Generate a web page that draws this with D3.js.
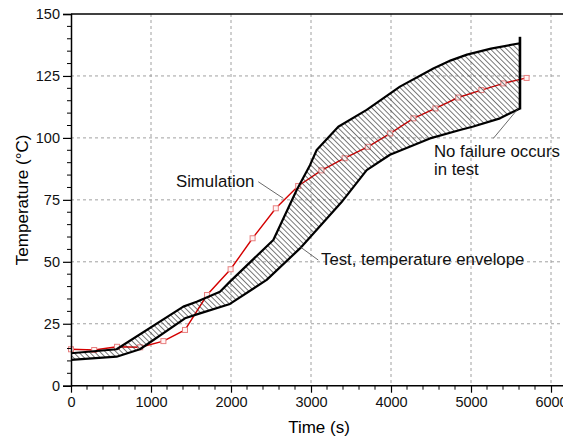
<!DOCTYPE html>
<html>
<head>
<meta charset="utf-8">
<script src="https://cdn.jsdelivr.net/npm/d3@7"></script>
<style>
  body { margin: 0; background: #fff; }
  svg { font-family: "Liberation Sans", Arial, sans-serif; }
</style>
</head>
<body>
<svg id="chart" width="563" height="442"></svg>
<script>
// simulation curve (time s, temperature C)
const simTime = [0, 290, 575, 865, 1155, 1425, 1700, 1995, 2270, 2560, 2840, 3130, 3420, 3710, 3990, 4280, 4555, 4840, 5130, 5405, 5695];
const simTemp = [14.7, 14.4, 15.7, 15.5, 18.0, 22.5, 36.6, 47.0, 59.5, 71.6, 80.6, 86.9, 91.8, 96.4, 101.8, 107.9, 111.9, 116.3, 119.3, 122.0, 124.2];

// test envelope, upper and lower bound
const upperTime = [0, 570, 1404, 1571, 1862, 1987, 2529, 2821, 2987, 3071, 3341, 3696, 4112, 4529, 4750, 4950, 5250, 5612];
const upperTemp = [13.1, 14.7, 31.9, 33.9, 37.9, 42.0, 58.8, 79.0, 89.0, 95.1, 104.5, 111.3, 120.7, 128.0, 131.3, 133.6, 136.0, 138.2];
const lowerTime = [0, 570, 862, 1425, 1612, 1987, 2446, 2862, 3380, 3696, 3987, 4487, 4862, 5029, 5362, 5612];
const lowerTemp = [10.4, 11.7, 14.7, 27.2, 29.2, 33.0, 42.7, 55.4, 74.0, 87.0, 93.2, 99.8, 103.2, 104.6, 107.9, 111.9];

// end of test, no failure
const endTime = 5612;
const endRange = [111.5, 140.8];

const xTicks = [0, 1000, 2000, 3000, 4000, 5000, 6000];
const yTicks = [0, 25, 50, 75, 100, 125, 150];
const xLabel = "Time (s)";
const yLabel = "Temperature (°C)";
const noteSim = "Simulation";
const noteEnv = "Test, temperature envelope";
const noteFail = ["No failure occurs", "in test"];

const svg = d3.select("#chart");
const mLeft = 71, mRight = 563, mTop = 14, mBottom = 385.7;

const x = d3.scaleLinear().domain([0, 6150]).range([mLeft, mRight]);
const y = d3.scaleLinear().domain([0, 150]).range([mBottom, mTop]);

const defs = svg.append("defs");
const pat = defs.append("pattern")
    .attr("id", "hatch")
    .attr("patternUnits", "userSpaceOnUse")
    .attr("width", 3.8).attr("height", 4)
    .attr("patternTransform", "rotate(-45)");
pat.append("line")
    .attr("x1", 0).attr("y1", 0).attr("x2", 0).attr("y2", 4)
    .attr("stroke", "#333").attr("stroke-width", 1.3);

// grid
const grid = svg.append("g").attr("stroke", "#a0a0a0").attr("stroke-dasharray", "3,3").attr("stroke-width", 1);
grid.selectAll("line.v").data(xTicks.filter(d => d > 0))
    .enter().append("line")
    .attr("x1", d => x(d)).attr("x2", d => x(d))
    .attr("y1", mTop).attr("y2", mBottom);
grid.selectAll("line.h").data(yTicks.filter(d => d > 0 && d < 150))
    .enter().append("line")
    .attr("x1", mLeft).attr("x2", mRight)
    .attr("y1", d => y(d)).attr("y2", d => y(d));

// simulation line
const sim = simTime.map((t, i) => [t, simTemp[i]]);
const line = d3.line().x(d => x(d[0])).y(d => y(d[1]));
svg.append("path")
    .attr("d", line(sim))
    .attr("fill", "none")
    .attr("stroke", "#d40000")
    .attr("stroke-width", 1.4);
svg.append("g").selectAll("rect").data(sim)
    .enter().append("rect")
    .attr("x", d => x(d[0]) - 2.5).attr("y", d => y(d[1]) - 2.5)
    .attr("width", 5).attr("height", 5)
    .attr("fill", "#fff4f4")
    .attr("stroke", "#e88080")
    .attr("stroke-width", 1);

// envelope
const upper = upperTime.map((t, i) => [t, upperTemp[i]]);
const lower = lowerTime.map((t, i) => [t, lowerTemp[i]]);
const envelope = upper.concat(lower.slice().reverse());
svg.append("path")
    .attr("d", line(envelope) + "Z")
    .attr("fill", "url(#hatch)")
    .attr("stroke", "none");
[upper, lower].forEach(pts => {
    svg.append("path")
        .attr("d", line(pts))
        .attr("fill", "none")
        .attr("stroke", "#000")
        .attr("stroke-width", 2.2)
        .attr("stroke-linejoin", "round");
});
svg.append("line")
    .attr("x1", x(endTime)).attr("x2", x(endTime))
    .attr("y1", y(endRange[0])).attr("y2", y(endRange[1]))
    .attr("stroke", "#000").attr("stroke-width", 2.6);

// axes
const xAxis = svg.append("g").attr("transform", `translate(0,${mBottom})`)
    .call(d3.axisBottom(x).tickValues(xTicks).tickSize(7).tickPadding(4).tickFormat(d3.format("d")));
xAxis.append("g").selectAll("line").data(d3.range(200, 6001, 200).filter(d => d % 1000))
    .enter().append("line")
    .attr("x1", d => x(d)).attr("x2", d => x(d)).attr("y1", 0).attr("y2", 4)
    .attr("stroke", "#000");
const yAxis = svg.append("g").attr("transform", `translate(${mLeft},0)`)
    .call(d3.axisLeft(y).tickValues(yTicks).tickSize(8).tickPadding(3));
yAxis.append("g").selectAll("line").data(d3.range(5, 150, 5).filter(d => d % 25))
    .enter().append("line")
    .attr("y1", d => y(d)).attr("y2", d => y(d)).attr("x1", 0).attr("x2", -4)
    .attr("stroke", "#000");
[xAxis, yAxis].forEach(a => {
    a.select(".domain").attr("stroke-width", 1.5);
    a.selectAll(".tick line").attr("stroke-width", 1.2);
    a.selectAll("text").attr("font-size", 14.5).attr("fill", "#111")
        .attr("font-family", "'Liberation Sans', Arial, sans-serif");
});
xAxis.select(".domain").attr("d", `M${mLeft},0H${mRight}`);
svg.append("line")
    .attr("x1", mLeft).attr("x2", mRight).attr("y1", mTop).attr("y2", mTop)
    .attr("stroke", "#000").attr("stroke-width", 1.5);

svg.append("text")
    .attr("x", 319).attr("y", 433)
    .attr("text-anchor", "middle")
    .attr("font-size", 17)
    .text(xLabel);
svg.append("text")
    .attr("transform", `translate(28,${(mTop + mBottom) / 2}) rotate(-90)`)
    .attr("text-anchor", "middle")
    .attr("font-size", 17)
    .text(yLabel);

// annotations
const notes = svg.append("g").attr("font-size", 16.8).attr("fill", "#111");
const leader = (a, b) => svg.append("line")
    .attr("x1", x(a[0])).attr("y1", y(a[1]))
    .attr("x2", x(b[0])).attr("y2", y(b[1]))
    .attr("stroke", "#444").attr("stroke-width", 0.8);

notes.append("text").attr("x", x(1312)).attr("y", y(80.2)).text(noteSim);
leader([2341, 82.3], [2654, 75.6]);

notes.append("text").attr("x", x(3125)).attr("y", y(48.7)).text(noteEnv);
leader([2862, 56.1], [3091, 50.7]);

notes.append("text").attr("x", x(4537)).attr("y", y(92.3)).text(noteFail[0]);
notes.append("text").attr("x", x(4537)).attr("y", y(85.2)).text(noteFail[1]);
leader([5591, 111.9], [5279, 99.8]);
</script>
</body>
</html>
